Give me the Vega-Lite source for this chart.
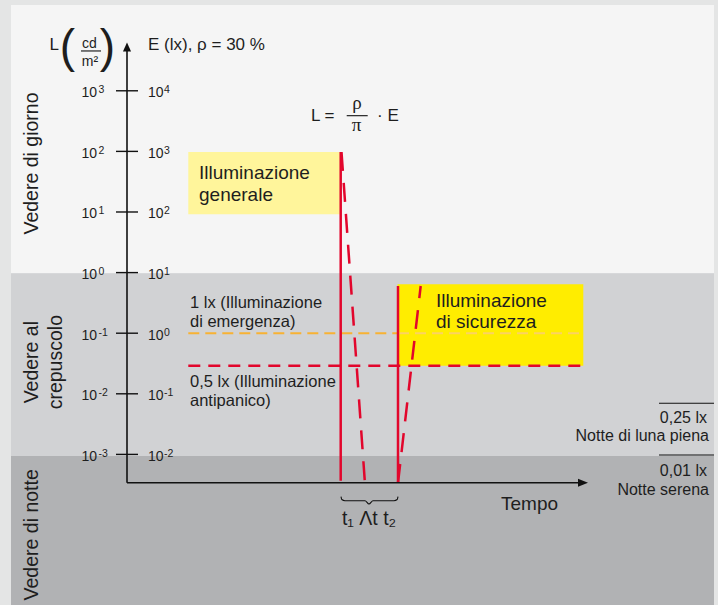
{
  "$schema": "https://vega.github.io/schema/vega-lite/v6.json",
  "width": 718,
  "height": 605,
  "autosize": {"type": "fit", "contains": "padding"},
  "padding": 0,
  "background": "#e4e5e5",
  "config": {"view": {"stroke": null}, "text": {"font": "Liberation Sans", "color": "#1e1e1e"}},
  "datasets": {
    "bands": [
      {"x": 11, "x2": 714, "y": 4.416, "y2": -0.01, "zone": "giorno"},
      {"x": 11, "x2": 714, "y": -0.01, "y2": -3.026, "zone": "crepuscolo"},
      {"x": 11, "x2": 714, "y": -3.026, "y2": -5.485, "zone": "notte"}
    ],
    "boxes": [
      {"x": 188.3, "x2": 340, "y": 1.99, "y2": 0.962, "box": "generale"},
      {"x": 397.5, "x2": 583.3, "y": -0.193, "y2": -1.536, "box": "sicurezza"}
    ],
    "orange": [
      {"x": 188.3, "x2": 398, "y": -1.002, "y2": -1.002, "seg": "fuori"},
      {"x": 398, "x2": 583.3, "y": -1.002, "y2": -1.002, "seg": "dentro"}
    ],
    "redh": [
      {"x": 188.3, "x2": 583.3, "y": -1.536, "y2": -1.536}
    ],
    "redsolid": [
      {"x": 340.7, "x2": 340.7, "y": 1.99, "y2": -3.434},
      {"x": 398, "x2": 398, "y": -0.221, "y2": -3.472}
    ],
    "reddash": [
      {"x": 341.5, "x2": 365, "y": 1.99, "y2": -3.49},
      {"x": 398, "x2": 420.7, "y": -3.47, "y2": -0.221}
    ],
    "axes": [
      {"x": 127, "x2": 127, "y": -3.467, "y2": 3.68},
      {"x": 127, "x2": 580, "y": -3.467, "y2": -3.467}
    ],
    "ticks": [
      {"x": 116, "x2": 138, "y": 3, "y2": 3},
      {"x": 116, "x2": 138, "y": 2, "y2": 2},
      {"x": 116, "x2": 138, "y": 1, "y2": 1},
      {"x": 116, "x2": 138, "y": 0, "y2": 0},
      {"x": 116, "x2": 138, "y": -1, "y2": -1},
      {"x": 116, "x2": 138, "y": -2, "y2": -2},
      {"x": 116, "x2": 138, "y": -3, "y2": -3}
    ],
    "thin": [
      {"x": 81, "x2": 101, "y": 3.657, "y2": 3.657},
      {"x": 346.7, "x2": 367.7, "y": 2.589, "y2": 2.589},
      {"x": 659, "x2": 714, "y": -2.157, "y2": -2.157},
      {"x": 659, "x2": 714, "y": -3.01, "y2": -3.01}
    ],
    "arrowUp": [{"x": 127, "y": 3.723}],
    "arrowRight": [{"x": 583, "y": -3.467}],
    "brace": [
      {"x": 341, "y": -3.698, "o": 1},
      {"x": 341.8, "y": -3.745, "o": 2},
      {"x": 345, "y": -3.764, "o": 3},
      {"x": 365, "y": -3.764, "o": 4},
      {"x": 369, "y": -3.818, "o": 5},
      {"x": 373, "y": -3.764, "o": 6},
      {"x": 394, "y": -3.764, "o": 7},
      {"x": 397.2, "y": -3.745, "o": 8},
      {"x": 398, "y": -3.698, "o": 9}
    ],
    "labels": [
      {"x": 97, "y": 2.893, "label": "10", "s": "baseL"},
      {"x": 97, "y": 1.893, "label": "10", "s": "baseL"},
      {"x": 97, "y": 0.893, "label": "10", "s": "baseL"},
      {"x": 97, "y": -0.107, "label": "10", "s": "baseL"},
      {"x": 97, "y": -1.107, "label": "10", "s": "baseL"},
      {"x": 97, "y": -2.107, "label": "10", "s": "baseL"},
      {"x": 97, "y": -3.107, "label": "10", "s": "baseL"},
      {"x": 98.5, "y": 2.959, "label": "3", "s": "exp"},
      {"x": 98.5, "y": 1.959, "label": "2", "s": "exp"},
      {"x": 98.5, "y": 0.959, "label": "1", "s": "exp"},
      {"x": 98.5, "y": -0.041, "label": "0", "s": "exp"},
      {"x": 98.5, "y": -1.041, "label": "-1", "s": "exp"},
      {"x": 98.5, "y": -2.041, "label": "-2", "s": "exp"},
      {"x": 98.5, "y": -3.041, "label": "-3", "s": "exp"},
      {"x": 148, "y": 2.893, "label": "10", "s": "baseR"},
      {"x": 148, "y": 1.893, "label": "10", "s": "baseR"},
      {"x": 148, "y": 0.893, "label": "10", "s": "baseR"},
      {"x": 148, "y": -0.107, "label": "10", "s": "baseR"},
      {"x": 148, "y": -1.107, "label": "10", "s": "baseR"},
      {"x": 148, "y": -2.107, "label": "10", "s": "baseR"},
      {"x": 148, "y": -3.107, "label": "10", "s": "baseR"},
      {"x": 164, "y": 2.959, "label": "4", "s": "exp"},
      {"x": 164, "y": 1.959, "label": "3", "s": "exp"},
      {"x": 164, "y": 0.959, "label": "2", "s": "exp"},
      {"x": 164, "y": -0.041, "label": "1", "s": "exp"},
      {"x": 164, "y": -1.041, "label": "0", "s": "exp"},
      {"x": 164, "y": -2.041, "label": "-1", "s": "exp"},
      {"x": 164, "y": -3.041, "label": "-2", "s": "exp"},
      {"x": 199, "y": 1.545, "label": "Illuminazione", "s": "big"},
      {"x": 199, "y": 1.182, "label": "generale", "s": "big"},
      {"x": 436, "y": -0.568, "label": "Illuminazione", "s": "big"},
      {"x": 436, "y": -0.914, "label": "di sicurezza", "s": "big"},
      {"x": 501, "y": -3.917, "label": "Tempo", "s": "big"},
      {"x": 190, "y": -0.584, "label": "1 lx (Illuminazione", "s": "mid"},
      {"x": 190, "y": -0.903, "label": "di emergenza)", "s": "mid"},
      {"x": 190, "y": -1.893, "label": "0,5 lx (Illuminazione", "s": "mid"},
      {"x": 190, "y": -2.201, "label": "antipanico)", "s": "mid"},
      {"x": 707, "y": -2.487, "label": "0,25 lx", "s": "note"},
      {"x": 709, "y": -2.779, "label": "Notte di luna piena", "s": "note"},
      {"x": 707, "y": -3.356, "label": "0,01 lx", "s": "note"},
      {"x": 709, "y": -3.67, "label": "Notte serena", "s": "note"},
      {"x": 38, "y": 1.8, "label": "Vedere di giorno", "s": "vert"},
      {"x": 38, "y": -1.478, "label": "Vedere al", "s": "vert"},
      {"x": 61.5, "y": -1.478, "label": "crepuscolo", "s": "vert"},
      {"x": 38, "y": -4.327, "label": "Vedere di notte", "s": "vert"},
      {"x": 49.5, "y": 3.673, "label": "L", "s": "head"},
      {"x": 148, "y": 3.673, "label": "E (lx), ρ = 30 %", "s": "head"},
      {"x": 311, "y": 2.502, "label": "L =", "s": "head"},
      {"x": 377, "y": 2.502, "label": "· E", "s": "head"},
      {"x": 89.5, "y": 3.706, "label": "cd", "s": "frac"},
      {"x": 90, "y": 3.409, "label": "m²", "s": "frac"},
      {"x": 357, "y": 2.70, "label": "ρ", "s": "greek"},
      {"x": 356.5, "y": 2.337, "label": "π", "s": "greek"},
      {"x": 369, "y": -4.165, "label": "t₁ Λt t₂", "s": "time"},
      {"x": 67.5, "y": 3.475, "label": "(", "s": "paren"},
      {"x": 107.5, "y": 3.475, "label": ")", "s": "paren"}
    ]
  },
  "encoding": {
    "x": {"field": "x", "type": "quantitative", "scale": {"domain": [0, 718], "nice": false, "zero": false}, "axis": null},
    "y": {"field": "y", "type": "quantitative", "scale": {"domain": [-5.485, 4.498], "nice": false, "zero": false}, "axis": null}
  },
  "resolve": {"scale": {"color": "independent"}},
  "layer": [
    {
      "data": {"name": "bands"},
      "mark": {"type": "rect"},
      "encoding": {
        "x2": {"field": "x2"}, "y2": {"field": "y2"},
        "color": {"field": "zone", "type": "nominal", "scale": {"domain": ["giorno", "crepuscolo", "notte"], "range": ["#f5f5f5", "#d1d2d4", "#b1b2b4"]}, "legend": null}
      }
    },
    {
      "data": {"name": "boxes"},
      "mark": {"type": "rect"},
      "encoding": {
        "x2": {"field": "x2"}, "y2": {"field": "y2"},
        "color": {"field": "box", "type": "nominal", "scale": {"domain": ["generale", "sicurezza"], "range": ["#fff59b", "#ffed00"]}, "legend": null}
      }
    },
    {
      "data": {"name": "orange"},
      "mark": {"type": "rule", "strokeWidth": 2, "strokeDash": [11, 6]},
      "encoding": {
        "x2": {"field": "x2"}, "y2": {"field": "y2"},
        "color": {"field": "seg", "type": "nominal", "scale": {"domain": ["fuori", "dentro"], "range": ["#f8b233", "#fcd262"]}, "legend": null}
      }
    },
    {
      "data": {"name": "redh"},
      "mark": {"type": "rule", "strokeWidth": 2.5, "strokeDash": [12, 8], "color": "#e2062c"},
      "encoding": {"x2": {"field": "x2"}, "y2": {"field": "y2"}}
    },
    {
      "data": {"name": "redsolid"},
      "mark": {"type": "rule", "strokeWidth": 2.5, "color": "#e2062c"},
      "encoding": {"x2": {"field": "x2"}, "y2": {"field": "y2"}}
    },
    {
      "data": {"name": "reddash"},
      "mark": {"type": "rule", "strokeWidth": 2.5, "strokeDash": [19, 12], "color": "#e2062c"},
      "encoding": {"x2": {"field": "x2"}, "y2": {"field": "y2"}}
    },
    {
      "data": {"name": "axes"},
      "mark": {"type": "rule", "strokeWidth": 1.6, "color": "#111111"},
      "encoding": {"x2": {"field": "x2"}, "y2": {"field": "y2"}}
    },
    {
      "data": {"name": "ticks"},
      "mark": {"type": "rule", "strokeWidth": 1.4, "color": "#111111"},
      "encoding": {"x2": {"field": "x2"}, "y2": {"field": "y2"}}
    },
    {
      "data": {"name": "thin"},
      "mark": {"type": "rule", "strokeWidth": 1.1, "color": "#111111"},
      "encoding": {"x2": {"field": "x2"}, "y2": {"field": "y2"}}
    },
    {
      "data": {"name": "arrowUp"},
      "mark": {"type": "point", "shape": "M-0.9,1L0,-1L0.9,1Z", "size": 81, "filled": true, "color": "#111111", "opacity": 1}
    },
    {
      "data": {"name": "arrowRight"},
      "mark": {"type": "point", "shape": "M-1,-0.8L1,0L-1,0.8Z", "size": 100, "filled": true, "color": "#111111", "opacity": 1}
    },
    {
      "data": {"name": "brace"},
      "mark": {"type": "line", "strokeWidth": 1.1, "color": "#111111", "interpolate": "monotone"},
      "encoding": {"order": {"field": "o", "type": "quantitative"}}
    },
    {
      "data": {"name": "labels"},
      "transform": [{"filter": "datum.s == 'baseL'"}],
      "mark": {"type": "text", "align": "right", "baseline": "alphabetic", "fontSize": 14, "font": "Liberation Sans", "color": "#1e1e1e"},
      "encoding": {"text": {"field": "label"}}
    },
    {
      "data": {"name": "labels"},
      "transform": [{"filter": "datum.s == 'baseR'"}],
      "mark": {"type": "text", "align": "left", "baseline": "alphabetic", "fontSize": 14, "font": "Liberation Sans", "color": "#1e1e1e"},
      "encoding": {"text": {"field": "label"}}
    },
    {
      "data": {"name": "labels"},
      "transform": [{"filter": "datum.s == 'exp'"}],
      "mark": {"type": "text", "align": "left", "baseline": "alphabetic", "fontSize": 10.5, "font": "Liberation Sans", "color": "#1e1e1e"},
      "encoding": {"text": {"field": "label"}}
    },
    {
      "data": {"name": "labels"},
      "transform": [{"filter": "datum.s == 'big'"}],
      "mark": {"type": "text", "align": "left", "baseline": "alphabetic", "fontSize": 19, "font": "Liberation Sans", "color": "#1e1e1e"},
      "encoding": {"text": {"field": "label"}}
    },
    {
      "data": {"name": "labels"},
      "transform": [{"filter": "datum.s == 'mid'"}],
      "mark": {"type": "text", "align": "left", "baseline": "alphabetic", "fontSize": 16.5, "font": "Liberation Sans", "color": "#1e1e1e"},
      "encoding": {"text": {"field": "label"}}
    },
    {
      "data": {"name": "labels"},
      "transform": [{"filter": "datum.s == 'note'"}],
      "mark": {"type": "text", "align": "right", "baseline": "alphabetic", "fontSize": 16, "font": "Liberation Sans", "color": "#1e1e1e"},
      "encoding": {"text": {"field": "label"}}
    },
    {
      "data": {"name": "labels"},
      "transform": [{"filter": "datum.s == 'vert'"}],
      "mark": {"type": "text", "align": "center", "baseline": "alphabetic", "angle": 270, "fontSize": 19.5, "font": "Liberation Sans", "color": "#1e1e1e"},
      "encoding": {"text": {"field": "label"}}
    },
    {
      "data": {"name": "labels"},
      "transform": [{"filter": "datum.s == 'head'"}],
      "mark": {"type": "text", "align": "left", "baseline": "alphabetic", "fontSize": 17, "font": "Liberation Sans", "color": "#1e1e1e"},
      "encoding": {"text": {"field": "label"}}
    },
    {
      "data": {"name": "labels"},
      "transform": [{"filter": "datum.s == 'frac'"}],
      "mark": {"type": "text", "align": "center", "baseline": "alphabetic", "fontSize": 14, "font": "Liberation Sans", "color": "#1e1e1e"},
      "encoding": {"text": {"field": "label"}}
    },
    {
      "data": {"name": "labels"},
      "transform": [{"filter": "datum.s == 'greek'"}],
      "mark": {"type": "text", "align": "center", "baseline": "alphabetic", "fontSize": 19, "font": "Liberation Serif", "color": "#1e1e1e"},
      "encoding": {"text": {"field": "label"}}
    },
    {
      "data": {"name": "labels"},
      "transform": [{"filter": "datum.s == 'time'"}],
      "mark": {"type": "text", "align": "center", "baseline": "alphabetic", "fontSize": 19.5, "font": "Liberation Sans", "color": "#1e1e1e"},
      "encoding": {"text": {"field": "label"}}
    },
    {
      "data": {"name": "labels"},
      "transform": [{"filter": "datum.s == 'paren'"}],
      "mark": {"type": "text", "align": "center", "baseline": "alphabetic", "fontSize": 46, "font": "Liberation Sans", "color": "#1e1e1e"},
      "encoding": {"text": {"field": "label"}}
    }
  ]
}
